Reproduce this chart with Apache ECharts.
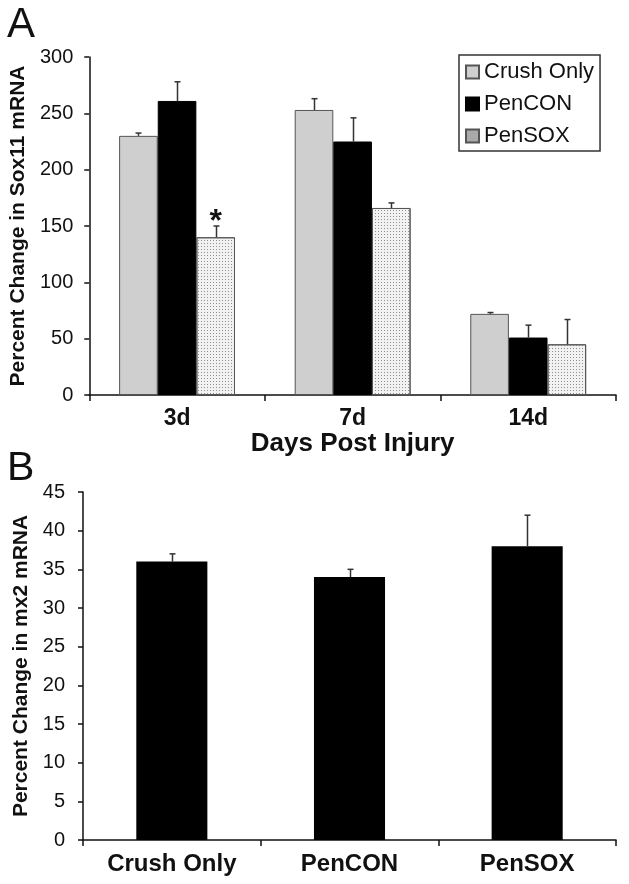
<!DOCTYPE html>
<html>
<head>
<meta charset="utf-8">
<script src="https://cdn.jsdelivr.net/npm/echarts@6/dist/echarts.min.js"></script>
<style>html,body{margin:0;padding:0;background:#fff}#c{width:629px;height:884px}</style>
</head>
<body>
<div id="c"></div>
<script>
// Panel A data
var catsA = ['3d', '7d', '14d'];
var crushA = [230, 253, 72];
var crushErrA = [2.5, 10, 1.2];
var penconA = [261, 225, 51];
var penconErrA = [17, 21, 11];
var pensoxA = [140, 166, 45];
var pensoxErrA = [10, 4.5, 22];
var ticksA = [0, 50, 100, 150, 200, 250, 300];

// Panel B data
var catsB = ['Crush Only', 'PenCON', 'PenSOX'];
var valsB = [36, 34, 38];
var errB = [1, 1, 4];
var ticksB = [0, 5, 10, 15, 20, 25, 30, 35, 40, 45];

var FONT = 'Liberation Sans, Arial, sans-serif';
var chart = echarts.init(document.getElementById('c'), null, {renderer: 'canvas'});

var gapA = 0.34;
function errSeries(vals, errs, k, xi, yi, gap, nBars) {
  return {
    type: 'custom',
    xAxisIndex: xi, yAxisIndex: yi,
    z: 5,
    silent: true,
    data: vals.map(function (v, i) { return [i, v, errs[i]]; }),
    renderItem: function (params, api) {
      var band = api.size([1, 0])[0];
      var bw = band * (1 - gap) / nBars;
      var p = api.coord([api.value(0), api.value(1)]);
      var t = api.coord([api.value(0), api.value(1) + api.value(2)]);
      var x = Math.round(p[0] + k * bw) + 0.5;
      var st = {stroke: '#333', lineWidth: 1.5};
      return {
        type: 'group',
        children: [
          {type: 'line', shape: {x1: x, y1: p[1], x2: x, y2: t[1]}, style: st},
          {type: 'line', shape: {x1: x - 3, y1: t[1], x2: x + 3, y2: t[1]}, style: st}
        ]
      };
    }
  };
}

var pensoxData = pensoxA.map(function (v, i) {
  if (i === 0) {
    return {value: v, label: {show: true, formatter: '*', position: 'top', distance: -1,
      fontSize: 32, fontWeight: 'bold', fontFamily: FONT, color: '#111'}};
  }
  return v;
});

var option = {
  animation: false,
  backgroundColor: '#fff',
  textStyle: {fontFamily: FONT},
  graphic: [
    {type: 'text', left: 7, top: 4, style: {text: 'A', fontSize: 42, fontFamily: FONT, fill: '#111'}},
    {type: 'text', left: 7, top: 448, style: {text: 'B', fontSize: 41, fontFamily: FONT, fill: '#111'}}
  ],
  legend: {
    left: 459, top: 55,
    orient: 'vertical',
    data: [
      {name: 'Crush Only'},
      {name: 'PenCON'},
      {name: 'PenSOX', itemStyle: {color: '#a9a9a9', decal: 'none'}}
    ],
    itemWidth: 13, itemHeight: 13, itemGap: 10,
    padding: [6, 6, 4, 6],
    borderColor: '#333', borderWidth: 1.5, borderRadius: 0,
    icon: 'rect',
    textStyle: {fontSize: 22, fontFamily: FONT, color: '#111', lineHeight: 21}
  },
  grid: [
    {left: 84, right: 13, top: 57, bottom: 489},
    {left: 83, right: 13, top: 492, bottom: 44}
  ],
  xAxis: [
    {
      type: 'category', gridIndex: 0, data: catsA,
      axisLine: {lineStyle: {color: '#111', width: 1.5}},
      axisTick: {show: true, alignWithLabel: false, length: 6, lineStyle: {color: '#111', width: 1.5}},
      axisLabel: {fontSize: 23, fontWeight: 'bold', color: '#111', margin: 12, fontFamily: FONT},
      name: 'Days Post Injury', nameLocation: 'middle', nameGap: 34,
      nameTextStyle: {fontSize: 26, fontWeight: 'bold', color: '#111', fontFamily: FONT}
    },
    {
      type: 'category', gridIndex: 1, data: catsB,
      axisLine: {lineStyle: {color: '#111', width: 1.5}},
      axisTick: {show: true, alignWithLabel: false, length: 6, lineStyle: {color: '#111', width: 1.5}},
      axisLabel: {fontSize: 24, fontWeight: 'bold', color: '#111', margin: 12, fontFamily: FONT}
    }
  ],
  yAxis: [
    {
      type: 'value', gridIndex: 0, min: 0, max: 300, interval: 50,
      axisLine: {show: true, lineStyle: {color: '#111', width: 1.5}},
      axisTick: {show: true, length: 5, lineStyle: {color: '#111', width: 1.5}},
      splitLine: {show: false},
      axisLabel: {fontSize: 20, color: '#111', margin: 16, fontFamily: FONT,
        formatter: function (v) { return ticksA.indexOf(v) >= 0 ? String(v) : ''; }},
      name: 'Percent Change in Sox11 mRNA', nameLocation: 'middle', nameGap: 49,
      nameTextStyle: {fontSize: 21, fontWeight: 'bold', color: '#111', fontFamily: FONT}
    },
    {
      type: 'value', gridIndex: 1, min: 0, max: 45, interval: 5,
      axisLine: {show: true, lineStyle: {color: '#111', width: 1.5}},
      axisTick: {show: true, length: 5, lineStyle: {color: '#111', width: 1.5}},
      splitLine: {show: false},
      axisLabel: {fontSize: 20, color: '#111', margin: 18, fontFamily: FONT,
        formatter: function (v) { return ticksB.indexOf(v) >= 0 ? String(v) : ''; }},
      name: 'Percent Change in mx2 mRNA', nameLocation: 'middle', nameGap: 42,
      nameTextStyle: {fontSize: 21, fontWeight: 'bold', color: '#111', fontFamily: FONT}
    }
  ],
  series: [
    {
      name: 'Crush Only', type: 'bar', xAxisIndex: 0, yAxisIndex: 0, data: crushA,
      barGap: '0%', barCategoryGap: (gapA * 100) + '%',
      itemStyle: {color: '#cfcfcf', borderColor: '#555', borderWidth: 1}
    },
    {
      name: 'PenCON', type: 'bar', xAxisIndex: 0, yAxisIndex: 0, data: penconA,
      barGap: '0%', barCategoryGap: (gapA * 100) + '%',
      itemStyle: {color: '#000', borderColor: '#000', borderWidth: 1}
    },
    {
      name: 'PenSOX', type: 'bar', xAxisIndex: 0, yAxisIndex: 0, data: pensoxData,
      barGap: '0%', barCategoryGap: (gapA * 100) + '%',
      itemStyle: {color: '#f2f2f2', borderColor: '#555', borderWidth: 1,
        decal: {symbol: 'rect', symbolSize: 1, color: '#8f8f8f', dashArrayX: [1, 2], dashArrayY: [1, 2], rotation: 0}}
    },
    errSeries(crushA, crushErrA, -1, 0, 0, gapA, 3),
    errSeries(penconA, penconErrA, 0, 0, 0, gapA, 3),
    errSeries(pensoxA, pensoxErrA, 1, 0, 0, gapA, 3),
    {
      name: 'B', type: 'bar', xAxisIndex: 1, yAxisIndex: 1, data: valsB,
      barCategoryGap: '60%',
      itemStyle: {color: '#000'}
    },
    errSeries(valsB, errB, 0, 1, 1, 0.6, 1)
  ]
};
chart.setOption(option);
</script>
</body>
</html>
